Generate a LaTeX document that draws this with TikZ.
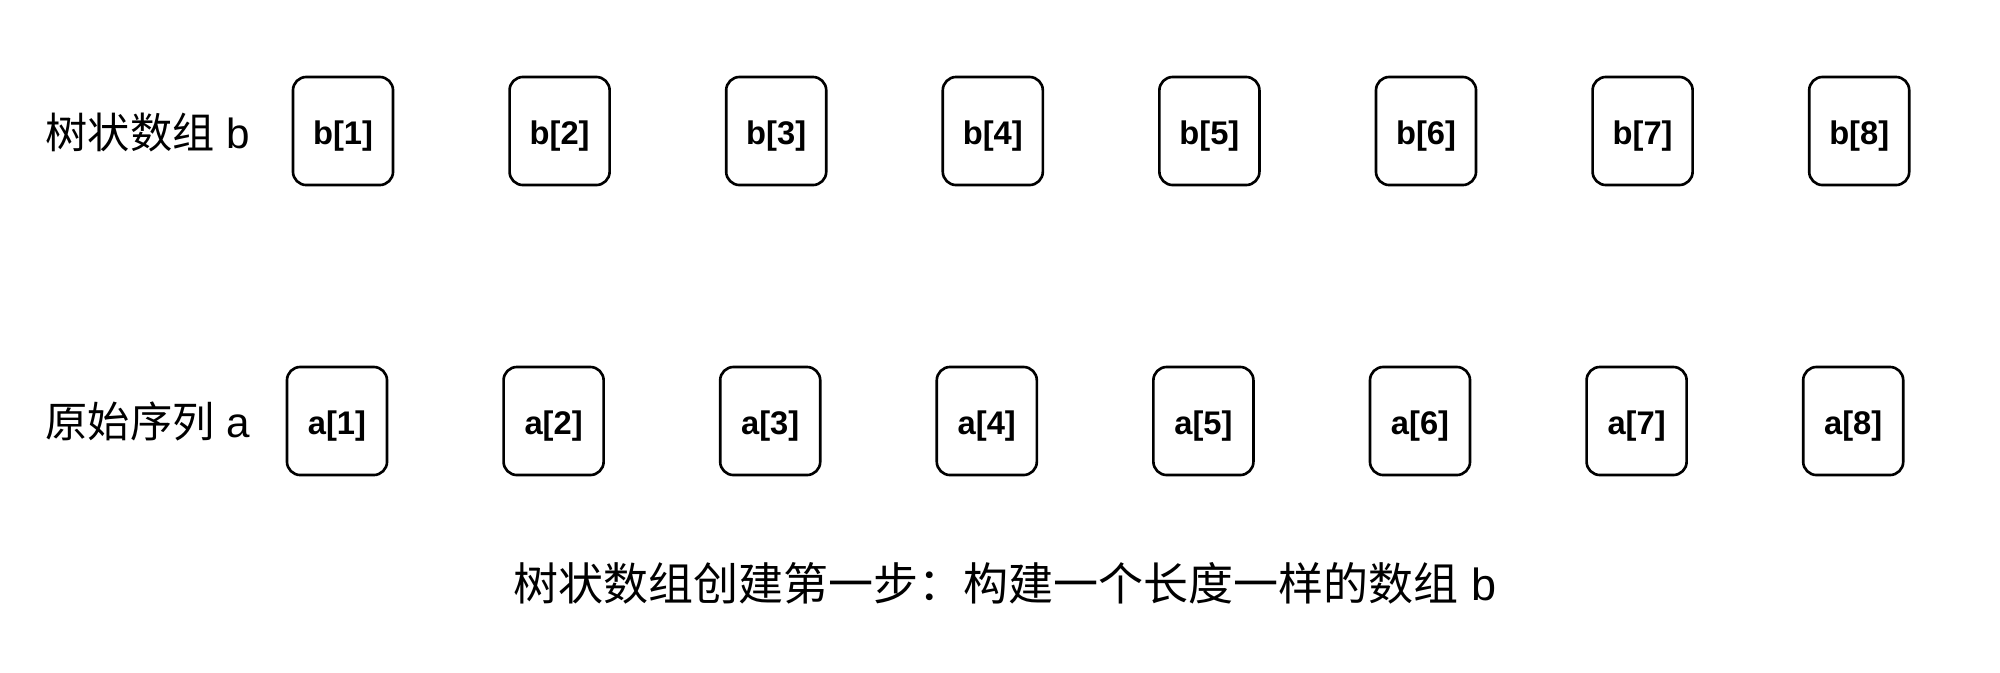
\documentclass[tikz,border=0pt]{standalone}
\usepackage{fontspec}
\setmainfont{Liberation Sans}
\newfontfamily\cjk{Noto Sans CJK SC}

\begin{document}
\begin{tikzpicture}[x=0.01cm,y=-0.01cm]
                        \tikzstyle{cell}=[draw, line width=0.75pt, rounded corners=3.8pt, minimum width=1cm, minimum height=1.08cm, inner sep=0pt, text height=0.94em, text depth=0.2em, font=\fontsize{9.3}{11}\selectfont\bfseries]
                        \tikzstyle{rowlabel}=[anchor=west, inner sep=0pt, font=\fontsize{12}{14}\selectfont]
                        \useasboundingbox (0,0) rectangle (2000,672);
                        \node[rowlabel] (labelb) at (45,132) {{\cjk 树状数组} b};
                        \node[cell] (b1) at (343,131) {b[1]};
                        \node[cell] (b2) at (559.6,131) {b[2]};
                        \node[cell] (b3) at (776.2,131) {b[3]};
                        \node[cell] (b4) at (992.8,131) {b[4]};
                        \node[cell] (b5) at (1209.4,131) {b[5]};
                        \node[cell] (b6) at (1426,131) {b[6]};
                        \node[cell] (b7) at (1642.6,131) {b[7]};
                        \node[cell] (b8) at (1859.2,131) {b[8]};
                        \node[rowlabel] (labela) at (45,421) {{\cjk 原始序列} a};
                        \node[cell] (a1) at (337,421) {a[1]};
                        \node[cell] (a2) at (553.6,421) {a[2]};
                        \node[cell] (a3) at (770.2,421) {a[3]};
                        \node[cell] (a4) at (986.8,421) {a[4]};
                        \node[cell] (a5) at (1203.4,421) {a[5]};
                        \node[cell] (a6) at (1420,421) {a[6]};
                        \node[cell] (a7) at (1636.6,421) {a[7]};
                        \node[cell] (a8) at (1853.2,421) {a[8]};
                        \node[inner sep=0pt, font=\fontsize{12.8}{15}\selectfont] (caption) at (1005,583) {{\cjk 树状数组创建第一步：构建一个长度一样的数组} b};
                    \end{tikzpicture}
\end{document}
